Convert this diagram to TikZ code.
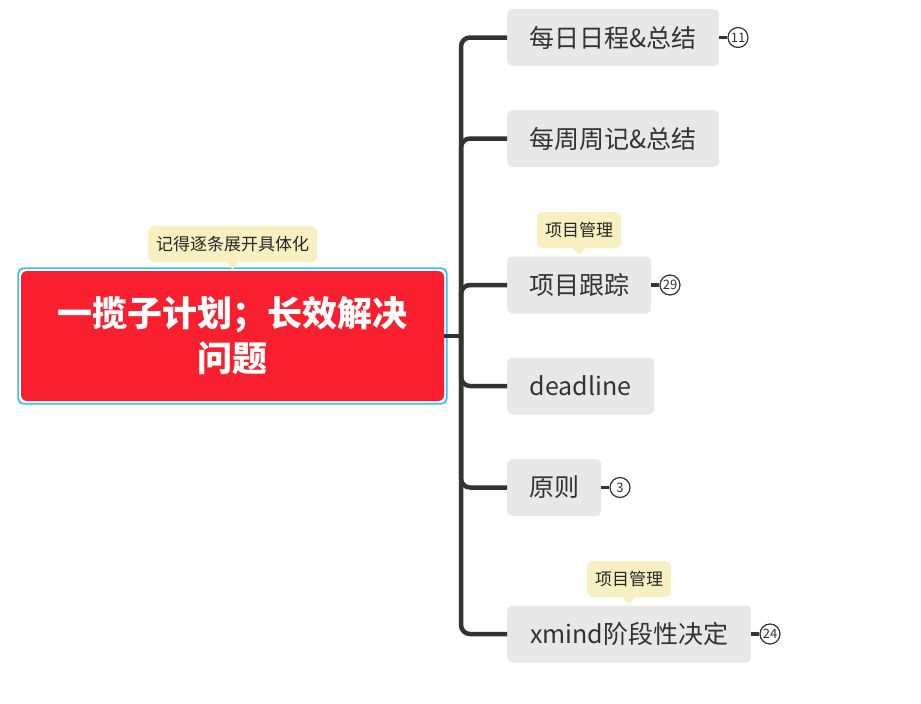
\documentclass[tikz,border=0pt]{standalone}
\usepackage{fontspec}
\setmainfont{Noto Sans CJK SC}
\usetikzlibrary{positioning}
\definecolor{linegray}{HTML}{333333}
\definecolor{boxgray}{HTML}{E8E8E8}
\definecolor{rootred}{HTML}{F8202F}
\definecolor{selblue}{HTML}{3DBCF2}
\definecolor{noteyellow}{HTML}{F8F0C0}

\begin{document}
\begin{tikzpicture}[x=1pt,y=-1pt,node distance=8pt,
                topic/.style={fill=boxgray,rounded corners=5pt,minimum height=57pt,inner xsep=22pt,
                        text=linegray,font=\fontsize{25}{28}\selectfont,anchor=west},
                root/.style={fill=rootred,rounded corners=6pt,minimum width=423pt,minimum height=130pt,
                        text=white,align=center,font=\bfseries\fontsize{35}{45}\selectfont},
                note/.style={fill=noteyellow,rounded corners=6pt,minimum height=36pt,inner xsep=8pt,
                        text=black!85,font=\fontsize{17}{20}\selectfont},
                badge/.style={circle,draw=linegray,line width=1.2pt,fill=white,minimum size=20pt,
                        inner sep=0pt,text=linegray,font=\fontsize{13}{13}\selectfont},
                branch/.style={draw=linegray,line width=4.5pt,rounded corners=9pt},
                stub/.style={draw=linegray,line width=3.5pt}]
                \useasboundingbox (0,0) rectangle (921,704);
                \node[root] (root) at (232.5,336) {一揽子计划；长效解决\\问题};
                \draw[selblue,line width=1.8pt,rounded corners=5pt]
                        ([shift={(-2.5,2.5)}]root.south west) rectangle ([shift={(2.5,-2.5)}]root.north east);
                \coordinate (hub) at (461,336);
                \node[topic,minimum width=212pt] (t_1) at (507,37.5)  {每日日程\&总结};
                \node[topic,minimum width=212pt] (t_2) at (507,138.5) {每周周记\&总结};
                \node[topic,minimum width=144pt] (t_3) at (507,285)   {项目跟踪};
                \node[topic,minimum width=147pt] (t_4) at (507,386)   {deadline};
                \node[topic,minimum width=94pt]  (t_5) at (507,487.5) {原则};
                \node[topic,minimum width=244pt] (t_6) at (507,634)   {xmind阶段性决定};
                \node[badge] (b_1) [right=of t_1] {11};
                \node[badge] (b_3) [right=of t_3] {29};
                \node[badge] (b_5) [right=of t_5] {3};
                \node[badge] (b_6) [right=of t_6] {24};
                \node[note] (n_0) at (232.5,244) {记得逐条展开具体化};
                \node[note] (n_3) at (579,230)   {项目管理};
                \node[note] (n_6) at (629,579)   {项目管理};
                \foreach \n in {n_0,n_3,n_6}
                        \fill[noteyellow] ([xshift=-7pt,yshift=1pt]\n.south) -- ([yshift=-7pt]\n.south)
                                -- ([xshift=7pt,yshift=1pt]\n.south) -- cycle;
                \draw[branch] (root.east) -- (hub);
                \foreach \t in {t_1,t_2,t_3,t_4,t_5,t_6}
                        \draw[branch] (hub) |- (\t.west);
                \foreach \b/\t in {b_1/t_1,b_3/t_3,b_5/t_5,b_6/t_6}
                        \draw[stub] (\t.east) -- (\b);
            \end{tikzpicture}
\end{document}
